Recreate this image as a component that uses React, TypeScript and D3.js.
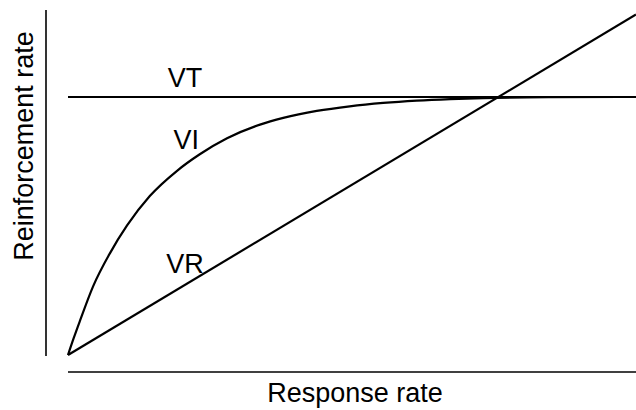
import * as d3 from "d3";

// Response rate (0–100) vs reinforcement rate (VT level = 100)
const viX = [0, 1, 2.1, 4.4, 7.4, 10.4, 14.4, 19.2, 23.2, 28.0, 33.8, 37.9, 43.8, 49.6, 55.5, 61.4, 67.3, 73.1, 85, 100];
const viY = [0, 6.5, 13.2, 26.5, 39.5, 50.2, 61.6, 71.4, 77.8, 84.0, 89.3, 91.9, 94.6, 96.4, 97.7, 98.6, 99.2, 99.6, 99.9, 100];
const vrX = [0, 100];
const vrY = [0, 132];
const vtX = [0, 100];
const vtY = [100, 100];

const labels = [
  { text: "VT", x: 20.6, y: 104 },
  { text: "VI", x: 20.8, y: 80 },
  { text: "VR", x: 20.6, y: 31.8 },
];

const W = 636;
const H = 410;
const FONT = "'Liberation Sans', Arial, Helvetica, sans-serif";

export default function App() {
  const x = d3.scaleLinear().domain([0, 100]).range([68, 636]);
  const y = d3.scaleLinear().domain([0, 100]).range([355, 97]);

  const smooth = d3
    .line<[number, number]>()
    .x((d) => x(d[0]))
    .y((d) => y(d[1]))
    .curve(d3.curveMonotoneX);

  const vi = smooth(viX.map((v, i) => [v, viY[i]]) as [number, number][]) ?? "";
  const vr = smooth(vrX.map((v, i) => [v, vrY[i]]) as [number, number][]) ?? "";
  const vt = smooth(vtX.map((v, i) => [v, vtY[i]]) as [number, number][]) ?? "";

  return (
    <div style={{ position: "fixed", left: 0, top: 0 }}>
      <svg width={W} height={H} style={{ display: "block", background: "#fff" }}>
        {/* axes drawn as plain detached lines */}
        <line x1={46} x2={46} y1={10} y2={356} stroke="#000" strokeWidth={1.6} />
        <line x1={68} x2={636} y1={372} y2={372} stroke="#000" strokeWidth={1.6} />

        <path d={vt} fill="none" stroke="#000" strokeWidth={2.2} />
        <path d={vi} fill="none" stroke="#000" strokeWidth={2.2} />
        <path d={vr} fill="none" stroke="#000" strokeWidth={2.2} />

        {labels.map((l) => (
          <text
            key={l.text}
            x={x(l.x)}
            y={y(l.y)}
            textAnchor="middle"
            fontFamily={FONT}
            fontSize={27}
            fill="#000"
          >
            {l.text}
          </text>
        ))}

        <text x={355} y={402} textAnchor="middle" fontFamily={FONT} fontSize={27} fill="#000">
          Response rate
        </text>
        <text
          transform="translate(33,146) rotate(-90)"
          textAnchor="middle"
          fontFamily={FONT}
          fontSize={27}
          fill="#000"
        >
          Reinforcement rate
        </text>
      </svg>
    </div>
  );
}
